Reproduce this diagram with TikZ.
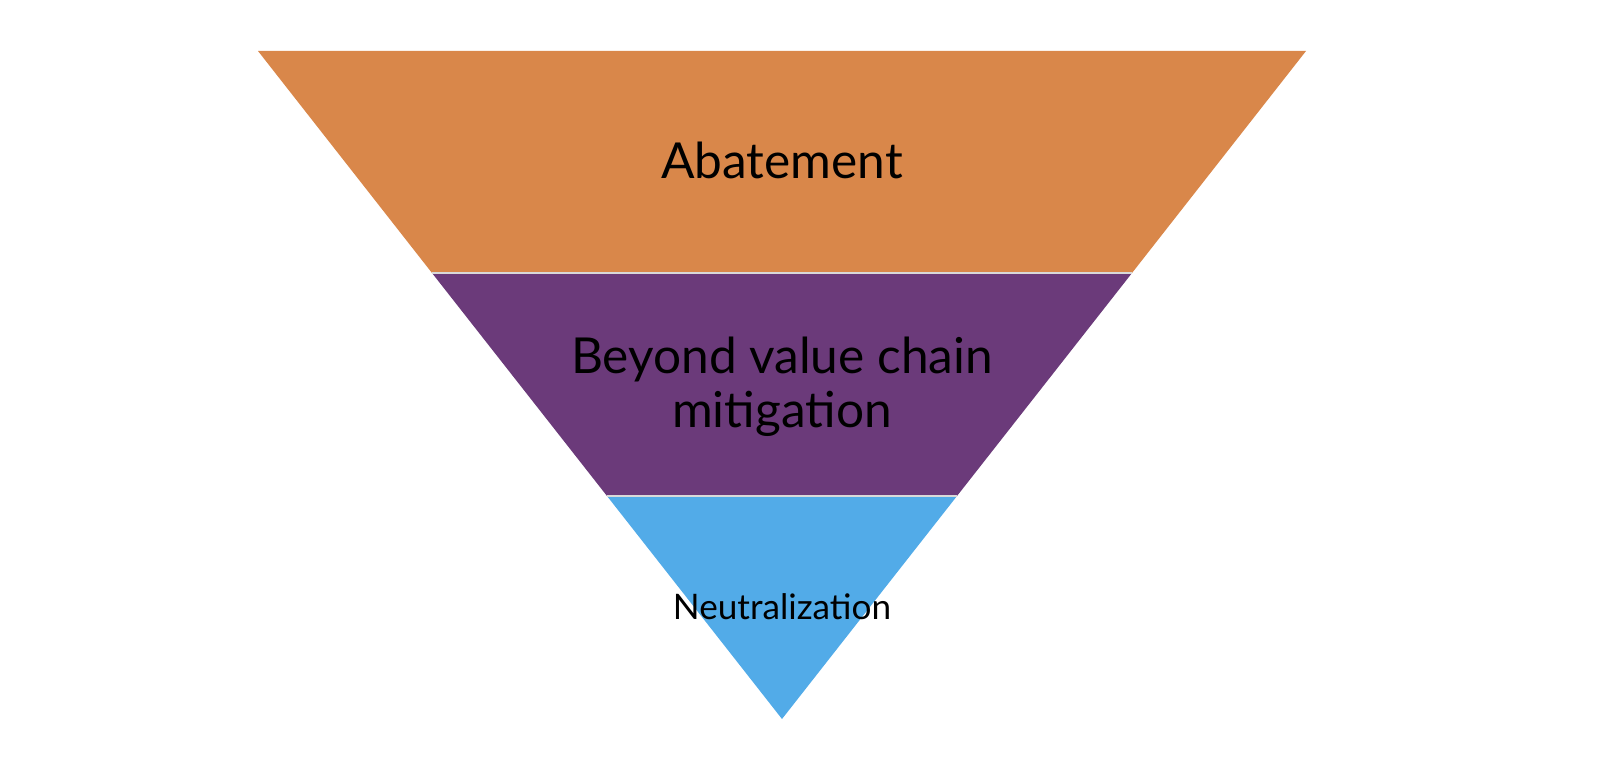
\documentclass[tikz,border=0pt]{standalone}
\usepackage{fontspec}
\setmainfont{Lato}
\definecolor{abateorange}{HTML}{D9874A}
\definecolor{beyondpurple}{HTML}{6B3A7A}
\definecolor{neutralblue}{HTML}{52ABE8}
\tikzset{
  band/.style={draw=white!85!black, line width=0.6pt},
  label/.style={text=black, align=center, font=\fontsize{14.1}{15.5}\selectfont}
}
\begin{document}
\begin{tikzpicture}[x=0.01cm, y=-0.01cm]
    \useasboundingbox (0,0) rectangle (1600,761);
    \coordinate (tl) at (258,51);
    \coordinate (tr) at (1306,51);
    \coordinate (ml) at (432,273);
    \coordinate (mr) at (1132,273);
    \coordinate (bl) at (607,496);
    \coordinate (br) at (957,496);
    \coordinate (apex) at (782,719);
    \fill[abateorange] (tl) -- (tr) -- (mr) -- (ml) -- cycle;
    \fill[beyondpurple] (ml) -- (mr) -- (br) -- (bl) -- cycle;
    \fill[neutralblue] (bl) -- (br) -- (apex) -- cycle;
    \draw[band] (ml) -- (mr);
    \draw[band] (bl) -- (br);
    \node[label] (abate) at (782,160) {Abatement};
    \node[label] (beyond) at (782,387) {Beyond value chain\\mitigation};
    \node[label, font=\fontsize{10}{12}\selectfont] (neutral) at (782,607) {Neutralization};
  \end{tikzpicture}
\end{document}
